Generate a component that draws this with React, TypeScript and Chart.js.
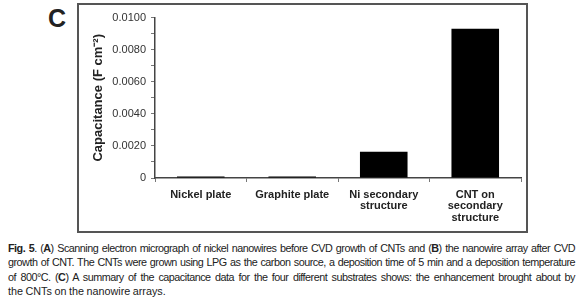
import React, { useEffect, useRef } from "react";
import { Chart, registerables } from "chart.js";

Chart.register(...registerables);

const categories: (string | string[])[] = [
  "Nickel plate",
  "Graphite plate",
  ["Ni secondary", "structure"],
  ["CNT on", "secondary", "structure"],
];
const capacitance = [0.0001, 0.0001, 0.00163, 0.0093];
const yMin = 0;
const yMax = 0.01;
const yStep = 0.001;
const yTitle = "Capacitance (F cm\u207B\u00B2)";
const panelLetter = "C";
const captionLines: React.ReactNode[][] = [
  [<b key="f">Fig. 5</b>, ". (", <b key="a">A</b>, ") Scanning electron micrograph of nickel nanowires before CVD growth of CNTs and (", <b key="b">B</b>, ") the nanowire array after CVD"],
  ["growth of CNT. The CNTs were grown using  LPG as the carbon source, a deposition time of 5 min and a deposition temperature"],
  ["of 800°C. (", <b key="c">C</b>, ")  A summary of the capacitance data for the four different substrates shows:  the enhancement brought about by"],
  ["the CNTs on the nanowire arrays."],
];

const FONT = "'Liberation Sans', Arial, Helvetica, sans-serif";

function ChartBox() {
  const ref = useRef<HTMLCanvasElement | null>(null);
  useEffect(() => {
    if (!ref.current) return;
    const chart = new Chart(ref.current, {
      type: "bar",
      data: {
        labels: categories,
        datasets: [
          {
            data: capacitance,
            backgroundColor: "#000000",
            borderWidth: 0,
            categoryPercentage: 1,
            barPercentage: 0.52,
          },
        ],
      },
      options: {
        animation: false,
        responsive: false,
        maintainAspectRatio: false,
        layout: { padding: { top: 8, right: 5, bottom: 0, left: 0 } },
        plugins: { legend: { display: false }, tooltip: { enabled: false } },
        scales: {
          x: {
            offset: true,
            grid: {
              offset: true,
              drawOnChartArea: false,
              drawTicks: true,
              tickLength: 4,
              color: "#777",
            },
            border: { color: "#444", width: 1.5 },
            ticks: {
              color: "#222",
              padding: 7,
              maxRotation: 0,
              autoSkip: false,
              font: { family: FONT, size: 11, weight: "bold", lineHeight: 1.05 },
            },
            afterFit: (s: any) => {
              s.height = 53;
            },
          },
          y: {
            min: yMin,
            max: yMax,
            grid: {
              drawOnChartArea: false,
              drawTicks: true,
              tickLength: 4,
              color: "#777",
            },
            border: { color: "#444", width: 1.5 },
            ticks: {
              stepSize: yStep,
              autoSkip: false,
              color: "#333",
              padding: 5,
              font: { family: FONT, size: 11 },
              callback: (v: any) => {
                const n = Math.round(Number(v) / yStep);
                if (n % 2 !== 0) return "";
                if (n === 0) return "0";
                return (n * yStep).toFixed(4);
              },
            },
            title: {
              display: true,
              text: yTitle,
              color: "#222",
              font: { family: FONT, size: 13, weight: "bold" },
              padding: { top: 11, bottom: 4 },
            },
            afterFit: (s: any) => {
              s.width = 75;
            },
          },
        },
      },
    });
    return () => chart.destroy();
  }, []);
  return <canvas ref={ref} width={446} height={225} style={{ display: "block", width: 446, height: 225 }} />;
}

export default function App() {
  return (
    <div style={{ position: "absolute", left: 0, top: 0, width: 580, height: 303, background: "#fff", fontFamily: FONT }}>
      <div
        style={{
          position: "absolute",
          left: 48,
          top: 4,
          fontSize: 25,
          fontWeight: "bold",
          color: "#222",
          lineHeight: "28px",
        }}
      >
        {panelLetter}
      </div>
      <div
        style={{
          position: "absolute",
          left: 77,
          top: 3,
          width: 447,
          height: 226,
          border: "2px solid #555",
        }}
      >
        <div style={{ position: "absolute", left: 1, top: 1 }}>
          <ChartBox />
        </div>
      </div>
      <div
        style={{
          position: "absolute",
          left: 8,
          top: 241,
          width: 567,
          fontSize: 10.8,
          lineHeight: "14.3px",
          color: "#222",
          letterSpacing: -0.5,
          wordSpacing: -0.5,
        }}
      >
        {captionLines.map((ln, i) => (
          <div
            key={i}
            style={{
              textAlign: i < captionLines.length - 1 ? "justify" : "left",
              textAlignLast: i < captionLines.length - 1 ? "justify" : "left",
              whiteSpace: "nowrap",
              letterSpacing: i === captionLines.length - 1 ? 0 : undefined,
            } as any}
          >
            {ln}
          </div>
        ))}
      </div>
    </div>
  );
}
